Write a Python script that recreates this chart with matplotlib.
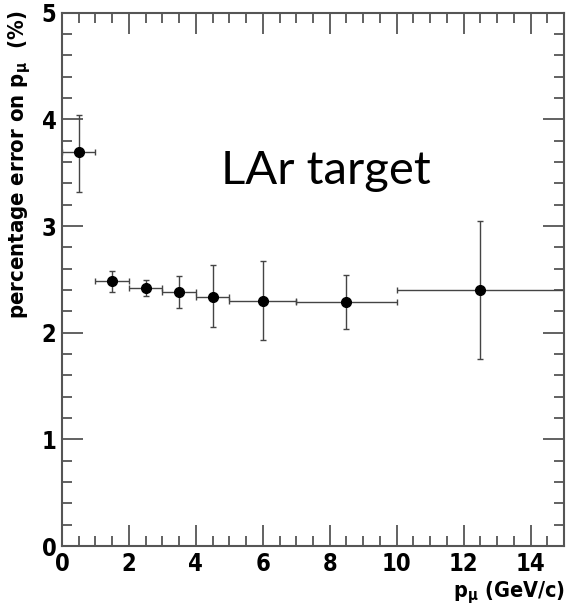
import matplotlib
matplotlib.use("Agg")
import matplotlib.pyplot as plt
from matplotlib.ticker import MultipleLocator
from matplotlib import font_manager
from matplotlib.font_manager import FontProperties

# ---- data ----
p_centers = [0.5, 1.5, 2.5, 3.5, 4.5, 6.0, 8.5, 12.5]
p_halfwidth = [0.5, 0.5, 0.5, 0.5, 0.5, 1.0, 1.5, 2.5]
pct_error = [3.69, 2.48, 2.42, 2.38, 2.33, 2.30, 2.29, 2.40]
pct_err_lo = [0.37, 0.10, 0.075, 0.15, 0.28, 0.37, 0.26, 0.65]
pct_err_hi = [0.35, 0.10, 0.075, 0.15, 0.30, 0.37, 0.25, 0.65]
x_ticks = [0, 2, 4, 6, 8, 10, 12, 14]
y_ticks = [0, 1, 2, 3, 4, 5]

# look for a condensed bold sans (Helvetica-narrow look of ROOT plots)
cand = None
for pref in ['LiberationSansNarrow-Bold', 'DejaVuSansCondensed-Bold']:
    for f in font_manager.fontManager.ttflist:
        if pref.lower() in f.fname.lower().replace(' ', ''):
            cand = f
            break
    if cand:
        break
if cand is not None:
    cond_name = cand.name
    cond_stretch = cand.stretch
else:
    cond_name = 'Liberation Sans'
    cond_stretch = 'normal'

plt.rcParams['font.family'] = [cond_name, 'DejaVu Sans']
plt.rcParams['font.stretch'] = cond_stretch
plt.rcParams['font.weight'] = 'bold'
plt.rcParams['mathtext.fontset'] = 'custom'
plt.rcParams['mathtext.rm'] = cond_name + ':bold'
plt.rcParams['mathtext.bf'] = cond_name + ':bold'
plt.rcParams['mathtext.it'] = cond_name + ':bold'

W, H = 566, 610
fig = plt.figure(figsize=(W / 100, H / 100), dpi=100)
ax = fig.add_axes([62 / W, 1 - 546 / H, (564 - 62) / W, (546 - 12.7) / H])

axis_col = '#555555'
ax.errorbar(p_centers, pct_error, xerr=p_halfwidth,
            yerr=[pct_err_lo, pct_err_hi], fmt='o', color='black',
            ms=7, ecolor='#444444', elinewidth=1.0, capsize=2.2, capthick=1.0)

ax.set_xlim(0, 15)
ax.set_ylim(0, 5)
ax.set_xticks(x_ticks)
ax.set_yticks(y_ticks)
ax.xaxis.set_minor_locator(MultipleLocator(0.5))
ax.yaxis.set_minor_locator(MultipleLocator(0.2))
ax.tick_params(which='both', direction='in', top=True, right=True,
               color=axis_col, width=1.3)
ax.tick_params(which='major', length=15, pad=4)
ax.tick_params(which='minor', length=7.5)
for lab in ax.get_xticklabels() + ax.get_yticklabels():
    lab.set_fontproperties(FontProperties(fname=cand.fname, size=17) if cand is not None
                           else FontProperties(family='Liberation Sans', weight='bold', size=15))
for s in ax.spines.values():
    s.set_color(axis_col)
    s.set_linewidth(1.5)

fig.text(20 / W, 1 - 10 / H, r'percentage error on p$_{\mu}$  (%)',
         rotation=90, ha='center', va='top', fontsize=15.8 if cand is not None else 16)
fig.text(565 / W, 1 - 593 / H, r'p$_{\mu}$ (GeV/c)',
         ha='right', va='center', fontsize=15.5 if cand is not None else 15)

ax.text(7.89, 3.39, 'LAr target', ha='center', va='baseline',
        fontsize=34, family=['Lato', 'DejaVu Sans'], fontweight='normal',
        fontstretch='normal')

fig.savefig('out.png', dpi=100)
